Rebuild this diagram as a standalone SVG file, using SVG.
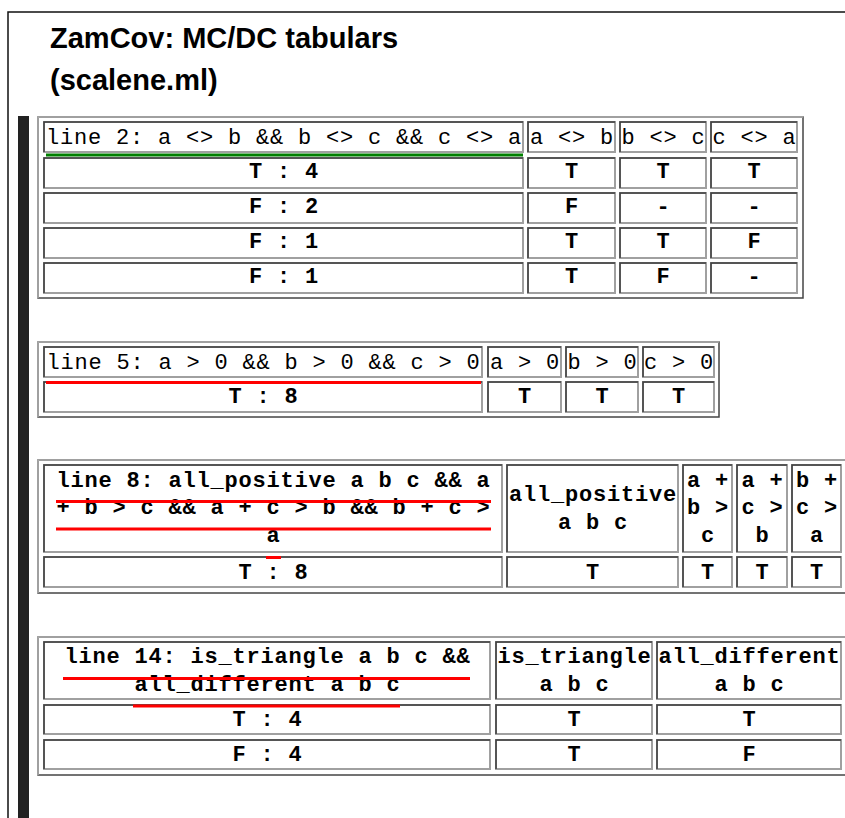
<svg xmlns="http://www.w3.org/2000/svg" width="845" height="818" viewBox="0 0 845 818">
<style>
.bg{fill:#fff}
.frame{fill:none;stroke:#111;stroke-width:1.5}
.bar{fill:#222}
.title{font-family:"Liberation Sans",Arial,sans-serif;font-weight:bold;font-size:29px;fill:#000}
.o{fill:#fff;stroke:#444;stroke-width:1.5}
.ol{fill:none;stroke:#b0b0b0;stroke-width:1.5}
.c{fill:#fff;stroke:#a0a0a0;stroke-width:2}
.cd{fill:none;stroke:#3c3c3c;stroke-width:1.5}
.m{font-family:"Liberation Mono","Courier New",monospace;font-size:22px;letter-spacing:0.8px;text-anchor:middle;font-weight:bold;fill:#000}
.n{font-weight:normal}
.g{fill:#008000}
.r{fill:#ff0000}
</style>
<rect class="bg" x="0" y="0" width="845" height="818"/>
<path class="frame" d="M8,818 V12 H845"/>
<rect class="bar" x="18" y="116" width="11" height="702"/>
<g id="title">
<text class="title" x="50" y="48">ZamCov: MC/DC tabulars</text>
<text class="title" x="50" y="90">(scalene.ml)</text>
</g>

<g id="table-line2">
<rect class="o" x="38" y="117" width="765" height="181"/>
<path class="ol" d="M38,298 V117 H803"/>
<rect class="c" x="44" y="122" width="479" height="30"/><path class="cd" d="M44,152 V122 H523"/>
<rect class="c" x="528" y="122" width="87" height="30"/><path class="cd" d="M528,152 V122 H615"/>
<rect class="c" x="620" y="122" width="86" height="30"/><path class="cd" d="M620,152 V122 H706"/>
<rect class="c" x="711" y="122" width="86" height="30"/><path class="cd" d="M711,152 V122 H797"/>
<text class="m n" x="284" y="144">line 2: a &lt;&gt; b &amp;&amp; b &lt;&gt; c &amp;&amp; c &lt;&gt; a</text>
<text class="m n" x="572" y="144">a &lt;&gt; b</text>
<text class="m n" x="663.5" y="144">b &lt;&gt; c</text>
<text class="m n" x="754.5" y="144">c &lt;&gt; a</text>
<rect class="c" x="44" y="158" width="479" height="30"/><path class="cd" d="M44,188 V158 H523"/>
<rect class="c" x="528" y="158" width="87" height="30"/><path class="cd" d="M528,188 V158 H615"/>
<rect class="c" x="620" y="158" width="86" height="30"/><path class="cd" d="M620,188 V158 H706"/>
<rect class="c" x="711" y="158" width="86" height="30"/><path class="cd" d="M711,188 V158 H797"/>
<rect class="c" x="44" y="193" width="479" height="30"/><path class="cd" d="M44,223 V193 H523"/>
<rect class="c" x="528" y="193" width="87" height="30"/><path class="cd" d="M528,223 V193 H615"/>
<rect class="c" x="620" y="193" width="86" height="30"/><path class="cd" d="M620,223 V193 H706"/>
<rect class="c" x="711" y="193" width="86" height="30"/><path class="cd" d="M711,223 V193 H797"/>
<rect class="c" x="44" y="228" width="479" height="30"/><path class="cd" d="M44,258 V228 H523"/>
<rect class="c" x="528" y="228" width="87" height="30"/><path class="cd" d="M528,258 V228 H615"/>
<rect class="c" x="620" y="228" width="86" height="30"/><path class="cd" d="M620,258 V228 H706"/>
<rect class="c" x="711" y="228" width="86" height="30"/><path class="cd" d="M711,258 V228 H797"/>
<rect class="c" x="44" y="263" width="479" height="30"/><path class="cd" d="M44,293 V263 H523"/>
<rect class="c" x="528" y="263" width="87" height="30"/><path class="cd" d="M528,293 V263 H615"/>
<rect class="c" x="620" y="263" width="86" height="30"/><path class="cd" d="M620,293 V263 H706"/>
<rect class="c" x="711" y="263" width="86" height="30"/><path class="cd" d="M711,293 V263 H797"/>
<text class="m" x="284" y="178">T : 4</text><text class="m" x="572" y="178">T</text><text class="m" x="663.5" y="178">T</text><text class="m" x="754.5" y="178">T</text>
<text class="m" x="284" y="213">F : 2</text><text class="m" x="572" y="213">F</text><text class="m" x="663.5" y="213">-</text><text class="m" x="754.5" y="213">-</text>
<text class="m" x="284" y="248">F : 1</text><text class="m" x="572" y="248">T</text><text class="m" x="663.5" y="248">T</text><text class="m" x="754.5" y="248">F</text>
<text class="m" x="284" y="283">F : 1</text><text class="m" x="572" y="283">T</text><text class="m" x="663.5" y="283">F</text><text class="m" x="754.5" y="283">-</text>
<rect class="g" x="46" y="153.5" width="477" height="3"/>
</g>

<g id="table-line5">
<rect class="o" x="38" y="342" width="681" height="75"/>
<path class="ol" d="M38,417 V342 H719"/>
<rect class="c" x="44" y="347" width="438" height="30"/><path class="cd" d="M44,377 V347 H482"/>
<rect class="c" x="488" y="347" width="73" height="30"/><path class="cd" d="M488,377 V347 H561"/>
<rect class="c" x="566" y="347" width="72" height="30"/><path class="cd" d="M566,377 V347 H638"/>
<rect class="c" x="643" y="347" width="71" height="30"/><path class="cd" d="M643,377 V347 H714"/>
<text class="m n" x="263.5" y="369">line 5: a &gt; 0 &amp;&amp; b &gt; 0 &amp;&amp; c &gt; 0</text>
<text class="m n" x="525" y="369">a &gt; 0</text>
<text class="m n" x="602.5" y="369">b &gt; 0</text>
<text class="m n" x="679" y="369">c &gt; 0</text>
<rect class="c" x="44" y="382" width="438" height="30"/><path class="cd" d="M44,412 V382 H482"/>
<rect class="c" x="488" y="382" width="73" height="30"/><path class="cd" d="M488,412 V382 H561"/>
<rect class="c" x="566" y="382" width="72" height="30"/><path class="cd" d="M566,412 V382 H638"/>
<rect class="c" x="643" y="382" width="71" height="30"/><path class="cd" d="M643,412 V382 H714"/>
<text class="m" x="263.5" y="403">T : 8</text><text class="m" x="525" y="403">T</text><text class="m" x="602.5" y="403">T</text><text class="m" x="679" y="403">T</text>
<rect class="r" x="46" y="381" width="435" height="3"/>
</g>

<g id="table-line8">
<rect class="o" x="38" y="460" width="812" height="133"/>
<path class="ol" d="M38,593 V460 H850"/>
<rect class="c" x="44" y="465" width="458" height="87"/><path class="cd" d="M44,552 V465 H502"/>
<rect class="c" x="507" y="465" width="171" height="87"/><path class="cd" d="M507,552 V465 H678"/>
<rect class="c" x="683" y="465" width="49" height="87"/><path class="cd" d="M683,552 V465 H732"/>
<rect class="c" x="737" y="465" width="50" height="87"/><path class="cd" d="M737,552 V465 H787"/>
<rect class="c" x="792" y="465" width="49" height="87"/><path class="cd" d="M792,552 V465 H841"/>
<text class="m" x="273.5" y="487">line 8: all_positive a b c &amp;&amp; a</text>
<text class="m" x="273.5" y="514">+ b &gt; c &amp;&amp; a + c &gt; b &amp;&amp; b + c &gt;</text>
<text class="m" x="273.5" y="542">a</text>
<text class="m" x="593" y="501">all_positive</text>
<text class="m" x="593" y="529">a b c</text>
<text class="m" x="708" y="487">a +</text><text class="m" x="708" y="514">b &gt;</text><text class="m" x="708" y="542">c</text>
<text class="m" x="762.5" y="487">a +</text><text class="m" x="762.5" y="514">c &gt;</text><text class="m" x="762.5" y="542">b</text>
<text class="m" x="817" y="487">b +</text><text class="m" x="817" y="514">c &gt;</text><text class="m" x="817" y="542">a</text>
<rect class="c" x="44" y="557" width="458" height="30"/><path class="cd" d="M44,587 V557 H502"/>
<rect class="c" x="507" y="557" width="171" height="30"/><path class="cd" d="M507,587 V557 H678"/>
<rect class="c" x="683" y="557" width="49" height="30"/><path class="cd" d="M683,587 V557 H732"/>
<rect class="c" x="737" y="557" width="50" height="30"/><path class="cd" d="M737,587 V557 H787"/>
<rect class="c" x="792" y="557" width="49" height="30"/><path class="cd" d="M792,587 V557 H841"/>
<text class="m" x="273.5" y="579">T : 8</text><text class="m" x="593" y="579">T</text><text class="m" x="708" y="579">T</text><text class="m" x="762.5" y="579">T</text><text class="m" x="817" y="579">T</text>
<rect class="r" x="56" y="500" width="435" height="3"/>
<rect class="r" x="56" y="527.5" width="435" height="3"/>
<rect class="r" x="266" y="556" width="15" height="3"/>
</g>

<g id="table-line14">
<rect class="o" x="38" y="637" width="812" height="138"/>
<path class="ol" d="M38,775 V637 H850"/>
<rect class="c" x="44" y="642" width="446" height="57"/><path class="cd" d="M44,699 V642 H490"/>
<rect class="c" x="496" y="642" width="156" height="57"/><path class="cd" d="M496,699 V642 H652"/>
<rect class="c" x="657" y="642" width="184" height="57"/><path class="cd" d="M657,699 V642 H841"/>
<text class="m" x="267.5" y="663">line 14: is_triangle a b c &amp;&amp;</text>
<text class="m" x="267.5" y="691">all_different a b c</text>
<text class="m" x="574.5" y="663">is_triangle</text>
<text class="m" x="574.5" y="691">a b c</text>
<text class="m" x="749.5" y="663">all_different</text>
<text class="m" x="749.5" y="691">a b c</text>
<rect class="c" x="44" y="705" width="446" height="29"/><path class="cd" d="M44,734 V705 H490"/>
<rect class="c" x="496" y="705" width="156" height="29"/><path class="cd" d="M496,734 V705 H652"/>
<rect class="c" x="657" y="705" width="184" height="29"/><path class="cd" d="M657,734 V705 H841"/>
<rect class="c" x="44" y="740" width="446" height="29"/><path class="cd" d="M44,769 V740 H490"/>
<rect class="c" x="496" y="740" width="156" height="29"/><path class="cd" d="M496,769 V740 H652"/>
<rect class="c" x="657" y="740" width="184" height="29"/><path class="cd" d="M657,769 V740 H841"/>
<text class="m" x="267.5" y="726">T : 4</text><text class="m" x="574.5" y="726">T</text><text class="m" x="749.5" y="726">T</text>
<text class="m" x="267.5" y="761">F : 4</text><text class="m" x="574.5" y="761">T</text><text class="m" x="749.5" y="761">F</text>
<rect class="r" x="63" y="677" width="407" height="3"/>
<rect class="r" x="133" y="704.5" width="267" height="3"/>
</g>
</svg>
